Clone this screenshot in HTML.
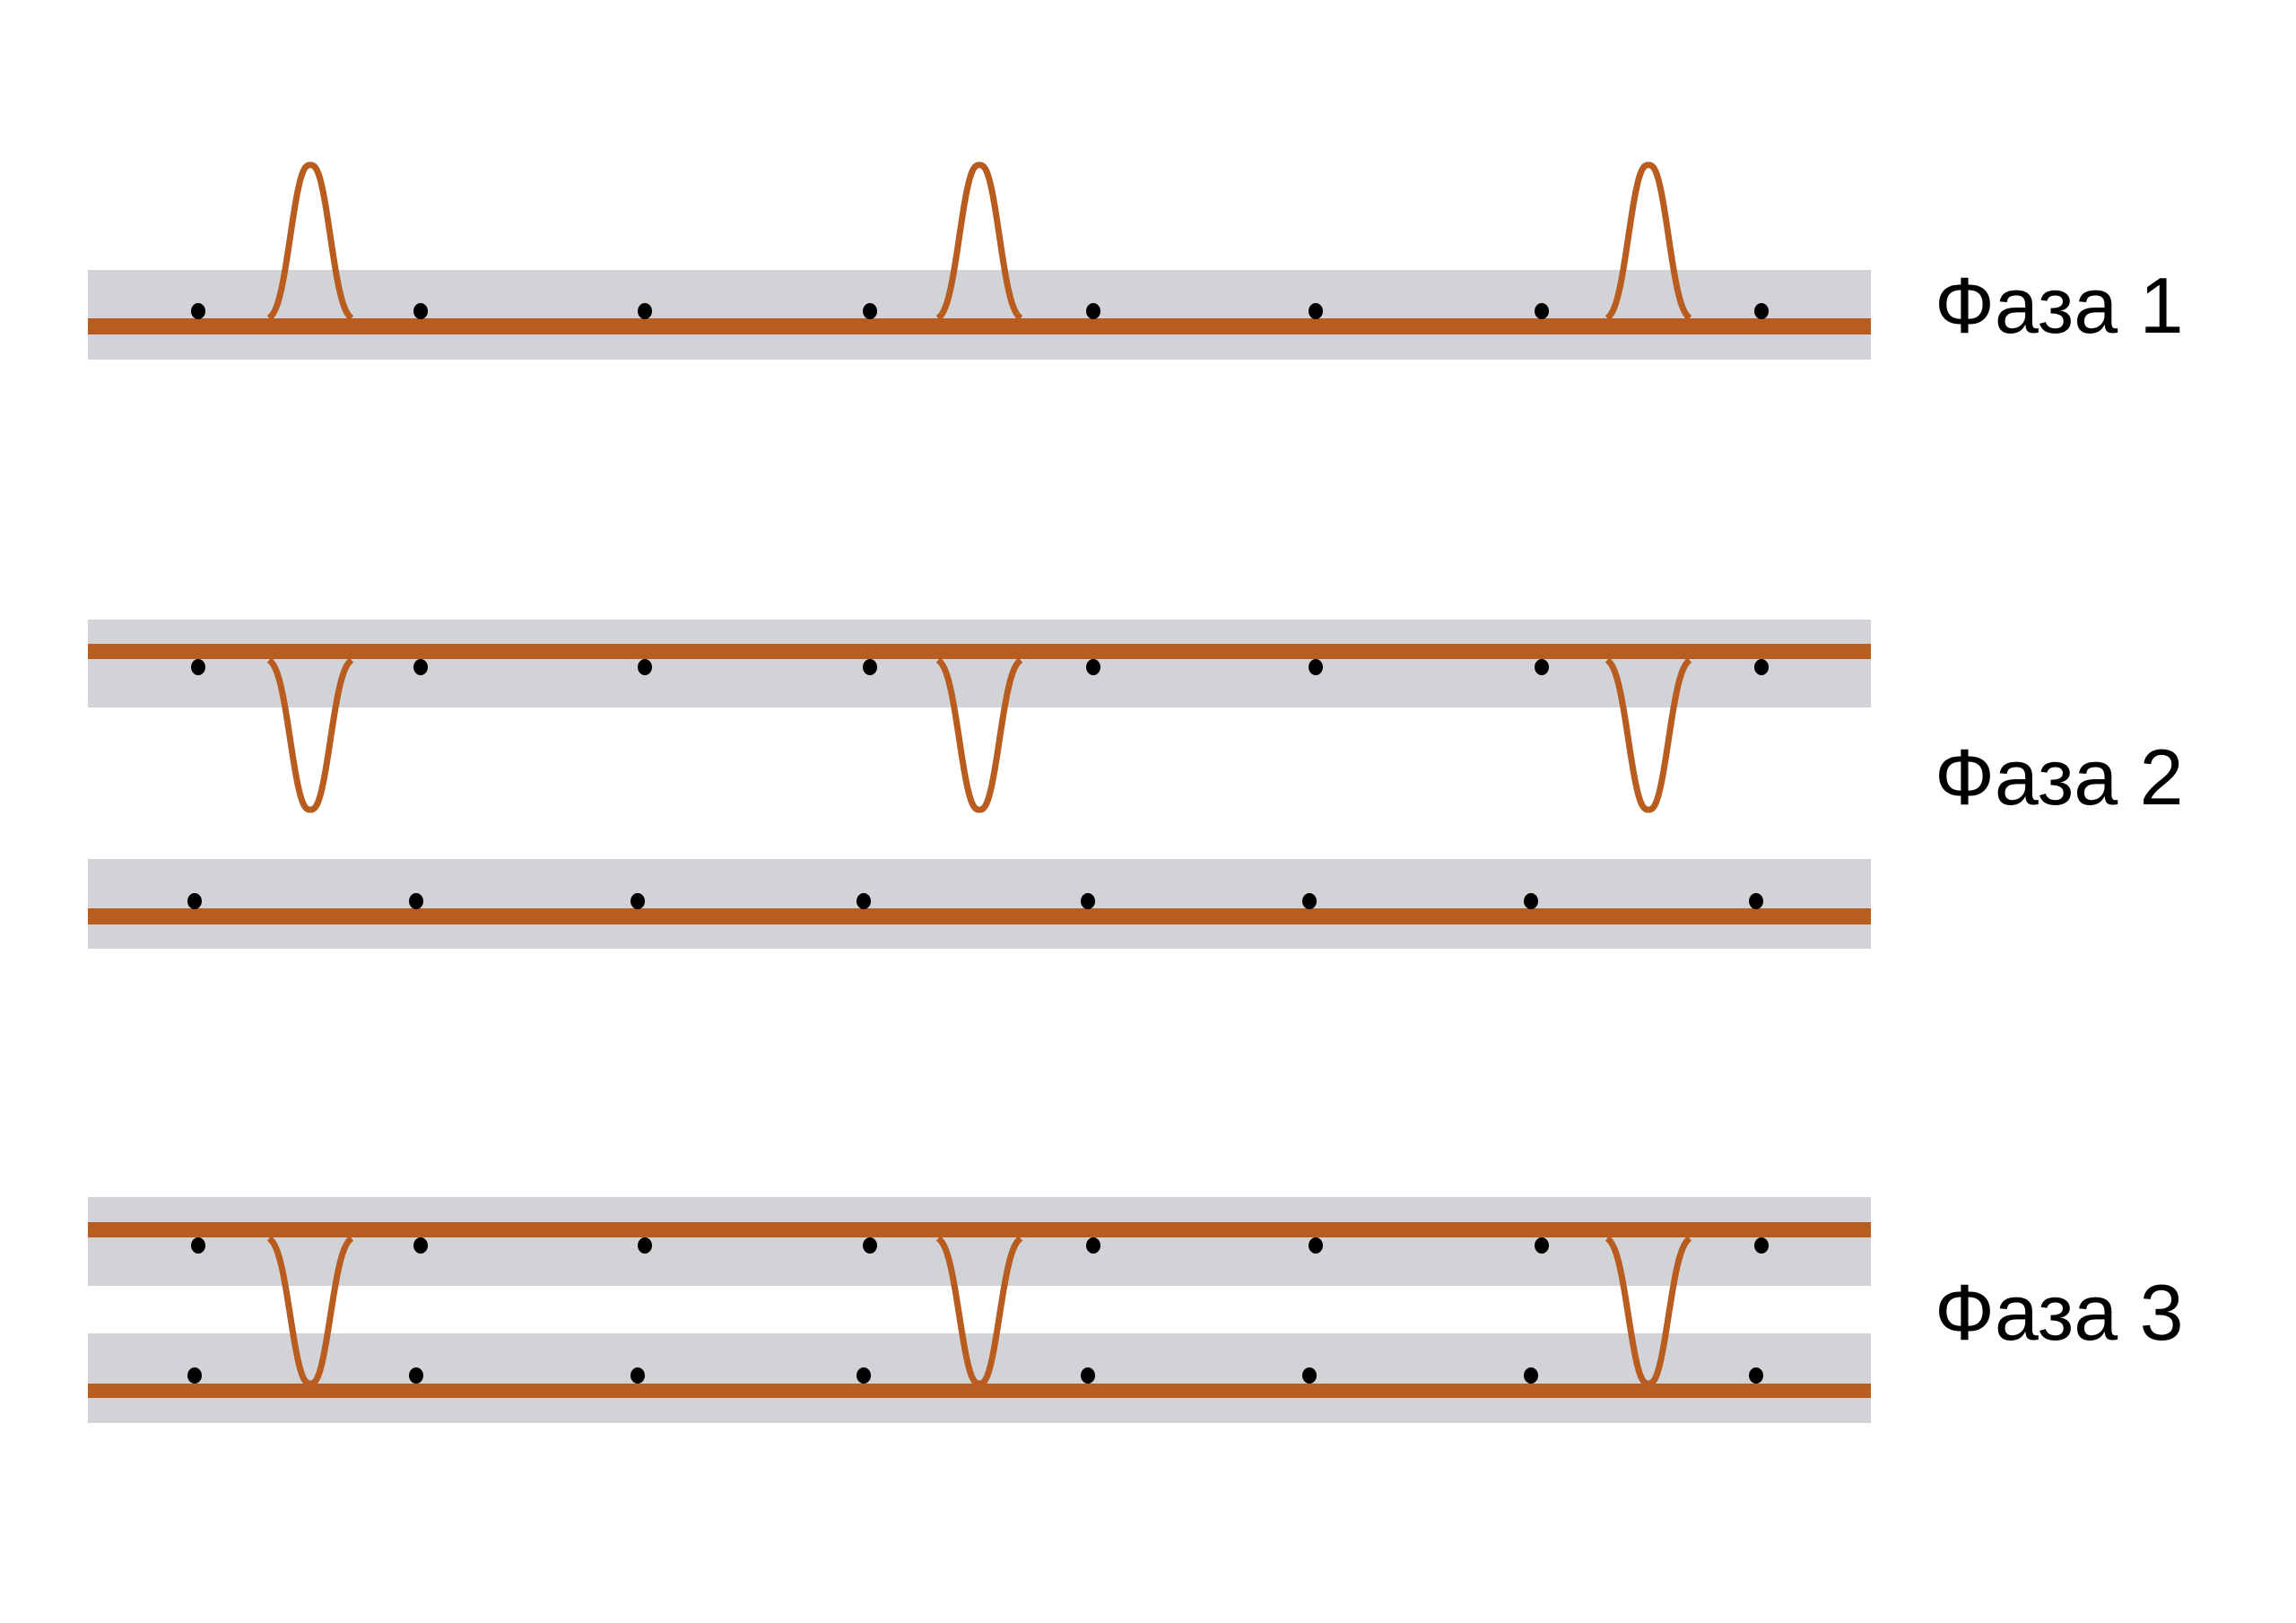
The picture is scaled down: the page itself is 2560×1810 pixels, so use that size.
<!DOCTYPE html>
<html><head><meta charset="utf-8"><style>
html,body{margin:0;padding:0;background:#fff;}
svg{display:block}
</style></head><body>
<svg id="s" width="2560" height="1810" xmlns="http://www.w3.org/2000/svg">
<rect width="2560" height="1810" fill="#fff"/>
<g fill="#d1d3d6">
<rect x="98" y="301" width="1988" height="100"/>
<rect x="98" y="691" width="1988" height="98"/>
<rect x="98" y="958" width="1988" height="100"/>
<rect x="98" y="1335" width="1988" height="99"/>
<rect x="98" y="1487" width="1988" height="100"/>
</g>
<g fill="#b85c20">
<rect x="98" y="355" width="1988" height="18"/>
<rect x="98" y="718" width="1988" height="17"/>
<rect x="98" y="1013" width="1988" height="18"/>
<rect x="98" y="1363" width="1988" height="17"/>
<rect x="98" y="1543" width="1988" height="16"/>
</g>
<g id="curves" fill="none" stroke="#b85c20" stroke-width="7" stroke-linejoin="round"></g>
<g id="dots" fill="#000"></g>
<g font-family="'Liberation Sans','DejaVu Sans',sans-serif" font-size="88" fill="#000">
<text x="2157" y="371">Фаза 1</text>
<text x="2157" y="897">Фаза 2</text>
<text x="2157" y="1494">Фаза 3</text>
</g>
</svg>
<script>
var NS="http://www.w3.org/2000/svg";
var cg=document.getElementById('curves'),dg=document.getElementById('dots');
function peak(c,base,h){
  var d='';
  for(var i=-46;i<=46;i+=0.5){
    var x=c+i, y=base-h*Math.exp(-Math.pow(Math.abs(i)/27,2.6));
    d+=(i==-46?'M':'L')+x.toFixed(1)+','+y.toFixed(1);
  }
  var p=document.createElementNS(NS,'path');p.setAttribute('d',d);cg.appendChild(p);
}
var cs=[346,1092,1838];
cs.forEach(function(c){
  peak(c,358,174);
  peak(c,733,-170);
  peak(c,1378,-165);
});
function dots(xs,y){xs.forEach(function(x){var e=document.createElementNS(NS,'ellipse');e.setAttribute('cx',x);e.setAttribute('cy',y);e.setAttribute('rx',8);e.setAttribute('ry',9);dg.appendChild(e);});}
var up=[221,469,719,970,1219,1467,1719,1964];
var lo=[217,464,711,963,1213,1460,1707,1958];
dots(up,347);dots(up,744);dots(lo,1005);dots(up,1389);dots(lo,1534);
</script>
</body></html>
